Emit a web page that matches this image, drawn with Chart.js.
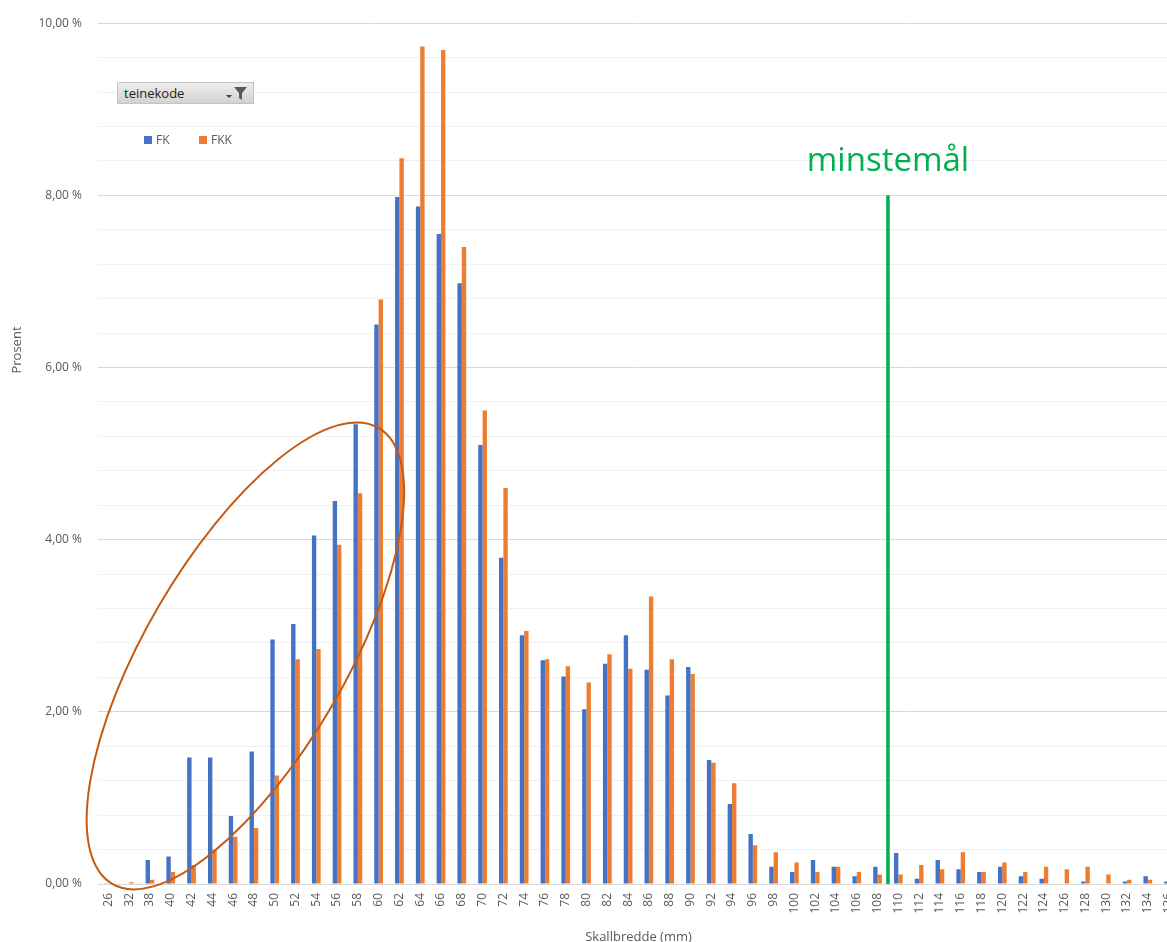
<!DOCTYPE html>
<html>
<head>
<meta charset="utf-8">
<title>Skallbredde</title>
<script src="https://cdn.jsdelivr.net/npm/chart.js@4.4.1/dist/chart.umd.min.js"></script>
<style>
    html, body { margin: 0; padding: 0; background: #fff; overflow: hidden; }
    #wrap { position: relative; width: 1167px; height: 942px; overflow: hidden; }
    #chart { position: absolute; left: 0; top: 0; }
    .filter {
        position: absolute; left: 117px; top: 82px; width: 129px; height: 20px;
        border: 1px solid #c4c4c4; background: linear-gradient(#ededed, #d2d2d2);
        font: 13px 'Open Sans', sans-serif; color: #222; line-height: 20px;
        padding-left: 6px; box-sizing: content-box;
    }
    .filter svg { position: absolute; right: 4px; top: 3px; }
    .legend { position: absolute; top: 131px; font: 12px 'Open Sans', sans-serif; color: #595959; }
    .legend span.sw { display: inline-block; width: 8px; height: 8px; margin-right: 4px; }
</style>
</head>
<body>
<div id="wrap">
    <canvas id="chart" width="1180" height="942"></canvas>
    <div class="filter">teinekode
        <svg width="26" height="15" viewBox="0 0 26 15">
            <polygon points="3,9 9,9 6,12" fill="#404040"/>
            <polygon points="11,1 24,1 19,7 19,14 16,12 16,7" fill="#595959"/>
        </svg>
    </div>
    <div class="legend" style="left:144px"><span class="sw" style="background:#4472C4"></span>FK</div>
    <div class="legend" style="left:199px"><span class="sw" style="background:#ED7D31"></span>FKK</div>
</div>
<script>
// skallbredde (mm) categories
const categories = ['26', '32', '38', '40', '42', '44', '46', '48', '50', '52', '54', '56', '58', '60',
    '62', '64', '66', '68', '70', '72', '74', '76', '78', '80', '82', '84', '86', '88', '90', '92',
    '94', '96', '98', '100', '102', '104', '106', '108', '110', '112', '114', '116', '118', '120',
    '122', '124', '126', '128', '130', '132', '134', '136'];

// percent per category
const fkValues = [0.01, 0, 0.28, 0.32, 1.47, 1.47, 0.79, 1.54, 2.84, 3.02, 4.05, 4.45, 5.34, 6.50,
    7.98, 7.87, 7.55, 6.98, 5.10, 3.79, 2.89, 2.60, 2.41, 2.03, 2.56, 2.89, 2.49, 2.19, 2.52, 1.44,
    0.93, 0.58, 0.20, 0.14, 0.28, 0.20, 0.09, 0.20, 0.36, 0.06, 0.28, 0.17, 0.14, 0.20,
    0.09, 0.06, 0, 0.03, 0, 0.03, 0.09, 0.03];
const fkkValues = [0, 0.02, 0.05, 0.14, 0.22, 0.40, 0.55, 0.65, 1.26, 2.61, 2.73, 3.94, 4.54, 6.79,
    8.43, 9.73, 9.69, 7.40, 5.50, 4.60, 2.94, 2.61, 2.53, 2.34, 2.67, 2.50, 3.34, 2.61, 2.44, 1.41,
    1.17, 0.45, 0.37, 0.25, 0.14, 0.20, 0.14, 0.11, 0.11, 0.22, 0.17, 0.37, 0.14, 0.25,
    0.14, 0.20, 0.17, 0.20, 0.11, 0.05, 0.05, 0];

const yMax = 10;
const yStep = 0.4;
const minLimitAfter = '108';   // minstemål line sits between 108 and 110
const minLimitLabel = 'minstemål';

const textColor = '#595959';
const isMajor = v => Math.abs(v / 2 - Math.round(v / 2)) < 1e-6;

// green min-size line, the hand drawn ellipse and the axis titles
const annotations = {
    id: 'annotations',
    afterDatasetsDraw(chart) {
        const { ctx, scales: { x, y } } = chart;
        const idx = categories.indexOf(minLimitAfter);
        const lx = (x.getPixelForValue(idx) + x.getPixelForValue(idx + 1)) / 2;

        ctx.save();
        ctx.strokeStyle = '#00B050';
        ctx.lineWidth = 3.5;
        ctx.beginPath();
        ctx.moveTo(lx, y.getPixelForValue(8));
        ctx.lineTo(lx, y.getPixelForValue(0));
        ctx.stroke();

        ctx.fillStyle = '#00B050';
        ctx.font = '33px "Open Sans"';
        ctx.textAlign = 'center';
        ctx.textBaseline = 'alphabetic';
        ctx.fillText(minLimitLabel, lx, y.getPixelForValue(8) - 24);

        // ellipse round the small sizes
        ctx.strokeStyle = '#C55A11';
        ctx.lineWidth = 2;
        ctx.beginPath();
        ctx.ellipse(x.getPixelForValue(6.59), y.getPixelForValue(2.65), 264, 100, -59.7 * Math.PI / 180, 0, Math.PI * 2);
        ctx.stroke();

        // axis titles
        ctx.fillStyle = textColor;
        ctx.font = '13px "Open Sans"';
        ctx.textBaseline = 'middle';
        ctx.fillText('Skallbredde (mm)', (chart.chartArea.left + chart.chartArea.right) / 2, 937);
        ctx.translate(17, 350);
        ctx.rotate(-Math.PI / 2);
        ctx.fillText('Prosent', 0, 0);
        ctx.restore();
    }
};

new Chart(document.getElementById('chart'), {
    type: 'bar',
    data: {
        labels: categories,
        datasets: [
            {
                label: 'FK',
                data: fkValues,
                backgroundColor: '#4472C4',
                categoryPercentage: 0.42,
                barPercentage: 1.0
            },
            {
                label: 'FKK',
                data: fkkValues,
                backgroundColor: '#ED7D31',
                categoryPercentage: 0.42,
                barPercentage: 1.0
            }
        ]
    },
    options: {
        responsive: false,
        animation: false,
        layout: { padding: { top: 21, right: 1, left: 0, bottom: 0 } },
        plugins: {
            legend: { display: false },
            tooltip: { enabled: false }
        },
        scales: {
            x: {
                grid: { display: false, drawTicks: false },
                border: { display: true, color: '#d9d9d9' },
                ticks: {
                    color: textColor,
                    font: { family: 'Open Sans', size: 12 },
                    minRotation: 90,
                    maxRotation: 90,
                    autoSkip: false,
                    padding: 9
                },
                afterFit: scale => {
                    scale.height = 58;
                    scale.paddingLeft = 0;
                    scale.paddingRight = 0;
                }
            },
            y: {
                min: 0,
                max: yMax,
                grid: {
                    drawTicks: false,
                    color: c => isMajor(c.tick.value) ? '#d9d9d9' : '#f0f0f0'
                },
                border: { display: false },
                ticks: {
                    stepSize: yStep,
                    autoSkip: false,
                    color: textColor,
                    font: { family: 'Open Sans', size: 12 },
                    padding: 16,
                    callback: v => isMajor(v) ? v.toFixed(2).replace('.', ',') + ' %' : ''
                },
                afterFit: scale => { scale.width = 98; }
            }
        }
    },
    plugins: [annotations]
});
</script>
</body>
</html>
